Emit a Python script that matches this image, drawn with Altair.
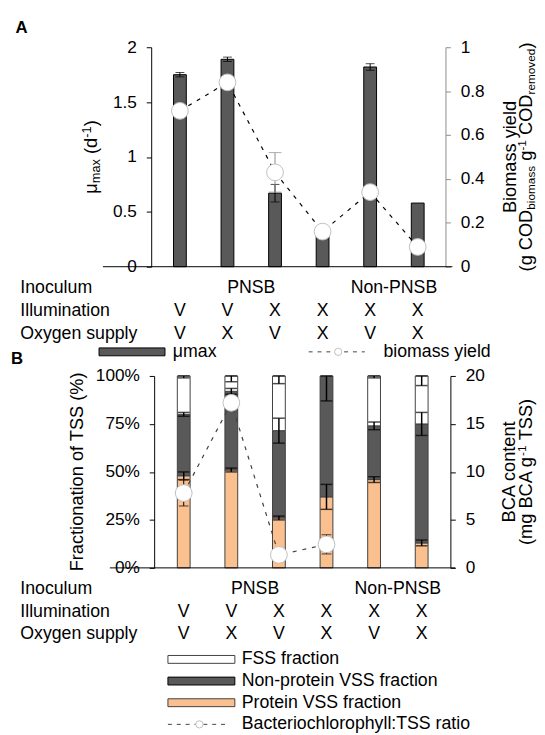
import altair as alt
import pandas as pd

FONT = "Liberation Sans"

# ---------------- data ----------------
conditions = [1, 2, 3, 4, 5, 6]
illumination = ["V", "V", "X", "X", "X", "X"]
oxygen_supply = ["V", "X", "V", "X", "V", "X"]
inoculum_names = ["PNSB", "Non-PNSB"]
inoculum_centres = [2.5, 5.5]
row_labels = ["Inoculum", "Illumination", "Oxygen supply"]

mu_max = [1.75, 1.89, 0.67, 0.30, 1.82, 0.58]
mu_max_err = [0.02, 0.02, 0.08, 0.0, 0.03, 0.0]
biomass_yield = [0.71, 0.84, 0.43, 0.16, 0.34, 0.09]
biomass_yield_err = [0.0, 0.0, 0.09, 0.0, 0.0, 0.0]

protein_vss = [48, 51, 26, 37, 46, 13]
nonprotein_vss = [32, 41, 45.5, 63, 28, 62]
fss = [20, 8, 28.5, 0, 26, 25]
protein_err = [2, 1, 1, 6.5, 1.5, 1.5]
nonprotein_err = [1, 1.5, 6.5, 13, 2, 6]
fss_err = [1, 3, 4, 0, 1, 5]

bca_conditions = [1, 2, 3, 4]
bca_content = [7.8, 17.2, 1.35, 2.45]
bca_err = [1.35, 0.6, 0.3, 1.0]

mu_ticks = [0, 0.5, 1, 1.5, 2]
yield_ticks = [0, 0.2, 0.4, 0.6, 0.8, 1]
tss_ticks = [0, 25, 50, 75, 100]
bca_ticks = [0, 5, 10, 15, 20]

seg_names = ["Protein VSS fraction", "Non-protein VSS fraction", "FSS fraction"]
seg_colors = ["#FAC090", "#595959", "#FFFFFF"]

# ---------------- layout ----------------
A_W, A_H = 299, 223
B_W, B_H = 304, 195
TXT = 18
TTL = 18.5
SUB = 12

ARIAL = {' ': 278, '(': 333, ')': 333, '-': 333, '1': 556, 'g': 556, 'C': 722,
         'O': 778, 'D': 722, 'b': 556, 'i': 222, 'o': 556, 'm': 833, 'a': 556,
         's': 500, 'r': 333, 'e': 556, 'v': 500, 'd': 556, 'μ': 576, 'x': 500,
         'B': 667, 'A': 667, 'c': 500, 'n': 556, 't': 278, 'T': 611, 'S': 667,
         'y': 500, 'l': 222, '%': 889, 'F': 611, 'f': 278}


def tw(s, size):
    return sum(ARIAL.get(c, 556) for c in s) * size / 1000.0


def one():
    return pd.DataFrame({"k": [0]})


def txt(text, x, y, size=TXT, align="left", baseline="middle", weight="normal", angle=0, color="black"):
    return alt.Chart(pd.DataFrame({"t": [text]})).mark_text(
        align=align, baseline=baseline, font=FONT, fontSize=size,
        fontWeight=weight, angle=angle, color=color
    ).encode(x=alt.value(x), y=alt.value(y), text="t:N")


def rotated(pieces, xb, yc):
    total = sum(tw(t, s) for t, s, _ in pieces)
    y = yc + total / 2
    marks = []
    for t, s, sh in pieces:
        lead = len(t) - len(t.lstrip(" "))
        y -= tw(" " * lead, s)
        core = t.strip(" ")
        marks.append(txt(core, xb + sh, y, size=s, align="left", baseline="alphabetic", angle=270))
        y -= tw(core, s)
    return marks


def hrule(x1, x2, y, color="black", width=1, dash=None):
    kw = dict(color=color, strokeWidth=width)
    if dash:
        kw["strokeDash"] = dash
    return alt.Chart(one()).mark_rule(**kw).encode(x=alt.value(x1), x2=alt.value(x2), y=alt.value(y))


def swatch(x1, x2, yc, fill, stroke="black"):
    return alt.Chart(one()).mark_rect(fill=fill, stroke=stroke, strokeWidth=1).encode(
        x=alt.value(x1), x2=alt.value(x2), y=alt.value(yc - 4), y2=alt.value(yc + 4))


def dot(x, y, size):
    return alt.Chart(one()).mark_circle(color="white", stroke="#bfbfbf", strokeWidth=1,
                                        opacity=1, size=size).encode(x=alt.value(x), y=alt.value(y))


def errbars(xenc, conds, centres, errs, yscale, yaxis, color, cap, hi_clip=None, width=1):
    rows = []
    for c, m, e in zip(conds, centres, errs):
        if e <= 0:
            continue
        hi = m + e
        if hi_clip is not None:
            hi = min(hi, hi_clip)
        rows.append(dict(cond=c, lo=m - e, hi=hi))
    df = pd.DataFrame(rows)
    caps = pd.DataFrame([dict(cond=r["cond"], v=r[k]) for r in rows for k in ("lo", "hi")])
    rule = alt.Chart(df).mark_rule(color=color, strokeWidth=width).encode(
        x=xenc, y=alt.Y("lo:Q", scale=yscale, axis=yaxis), y2="hi:Q")
    tick = alt.Chart(caps).mark_tick(orient="horizontal", size=cap, thickness=width, color=color).encode(
        x=xenc, y=alt.Y("v:Q", scale=yscale, axis=yaxis))
    return [rule, tick]


def table(df, xenc, ys, inoc_y):
    out = []
    for lab, yy in zip(row_labels, ys):
        out.append(txt(lab, -133, yy))
    out.append(alt.Chart(df).mark_text(font=FONT, fontSize=TXT, align="center", baseline="middle",
                                       color="black").encode(x=xenc, y=alt.value(ys[1]), text="illum:N"))
    out.append(alt.Chart(df).mark_text(font=FONT, fontSize=TXT, align="center", baseline="middle",
                                       color="black").encode(x=xenc, y=alt.value(ys[2]), text="oxy:N"))
    inoc = pd.DataFrame({"cond": inoculum_centres, "name": inoculum_names})
    out.append(alt.Chart(inoc).mark_text(font=FONT, fontSize=TXT, align="center", baseline="middle",
                                         color="black").encode(x=xenc, y=alt.value(inoc_y), text="name:N"))
    return out


# ---------------- panel A ----------------
xA = alt.X("cond:Q", scale=alt.Scale(domain=[0.5, 6.48], nice=False, zero=False), axis=None)
ysA_L = alt.Scale(domain=[0, 2], nice=False)
ysA_R = alt.Scale(domain=[0, 1], nice=False)
axA_L = alt.Axis(orient="left", values=mu_ticks, format="~g", title=None)
axA_R = alt.Axis(orient="right", values=yield_ticks, format="~g", title=None,
                 domainColor="#8c8c8c", tickColor="#8c8c8c")

dfA = pd.DataFrame({"cond": conditions, "mu": mu_max, "yield": biomass_yield,
                    "illum": illumination, "oxy": oxygen_supply})

barsA = alt.Chart(dfA).mark_bar(size=13, color="#595959", stroke="black", strokeWidth=1,
                                orient="vertical").encode(
    x=xA, y=alt.Y("mu:Q", scale=ysA_L, axis=axA_L))
leftA = alt.layer(barsA, *errbars(xA, conditions, mu_max, mu_max_err, ysA_L, axA_L, "black", 9))

lineA = alt.Chart(dfA).mark_line(color="black", strokeWidth=1.2, strokeDash=[4, 6]).encode(
    x=xA, y=alt.Y("yield:Q", scale=ysA_R, axis=axA_R))
ptsA = alt.Chart(dfA).mark_circle(size=290, color="white", stroke="#bfbfbf", strokeWidth=1,
                                  opacity=1).encode(x=xA, y=alt.Y("yield:Q", scale=ysA_R, axis=axA_R))
rightA = alt.layer(lineA, *errbars(xA, conditions, biomass_yield, biomass_yield_err, ysA_R, axA_R,
                                   "#8c8c8c", 13), ptsA)

annotA = [hrule(-49, 306, A_H)]
annotA += table(dfA, xA, [245, 268.5, 291], 245)
annotA += [
    txt("A", -138, -14.3, size=17, weight="bold", baseline="alphabetic"),
    swatch(-53, 14, 309.5, "#595959"),
    txt("μmax", 22, 309.5),
    hrule(160, 217, 309.5, "#404040", 1, [4, 5]),
    dot(190, 309.5, 55),
    txt("biomass yield", 236, 309.5),
    txt("Biomass yield", 371, A_H / 2, size=TTL, align="center", baseline="alphabetic", angle=270),
]
annotA += rotated([("μ", TTL, 0), ("max", 13, 3), (" (d", TTL, 0), ("-1", 13, -6), (")", TTL, 0)],
                  -55, A_H / 2)
annotA += rotated([("(g COD", TTL, 0), ("biomass", SUB, 3), (" g", TTL, 0), ("-1", SUB, -6),
                   (" COD", TTL, 0), ("removed", SUB, 3), (")", TTL, 0)], 386.5, A_H / 2)

panelA = alt.layer(leftA, rightA, *annotA).resolve_scale(y="independent").properties(
    width=A_W, height=A_H)

# ---------------- panel B ----------------
xB = alt.X("cond:Q", scale=alt.Scale(domain=[0.42, 6.5], nice=False, zero=False), axis=None)
ysB_L = alt.Scale(domain=[0, 100], nice=False)
ysB_R = alt.Scale(domain=[0, 20], nice=False)
axB_L = alt.Axis(orient="left", values=tss_ticks, labelExpr="datum.value + '%'",
                 title=None, offset=-3)
axB_R = alt.Axis(orient="right", values=bca_ticks, format="~g", title=None)

dfB = pd.DataFrame({"cond": conditions, "illum": illumination, "oxy": oxygen_supply})

seg_rows = []
tops, top_errs, top_conds = [], [], []
for c, p, n, f, pe, ne, fe in zip(conditions, protein_vss, nonprotein_vss, fss,
                                  protein_err, nonprotein_err, fss_err):
    bounds = [0, p, p + n, p + n + f]
    for k, name in enumerate(seg_names):
        if bounds[k + 1] > bounds[k]:
            seg_rows.append(dict(cond=c, seg=name, y0=bounds[k], y1=bounds[k + 1]))
    for k, e in zip(range(1, 4), (pe, ne, fe)):
        tops.append(bounds[k])
        top_errs.append(e)
        top_conds.append(c)
segB = pd.DataFrame(seg_rows)

barsB = alt.Chart(segB).mark_bar(size=13, stroke="#404040", strokeWidth=1, orient="vertical").encode(
    x=xB,
    y=alt.Y("y0:Q", scale=ysB_L, axis=axB_L),
    y2="y1:Q",
    color=alt.Color("seg:N", scale=alt.Scale(domain=seg_names, range=seg_colors), legend=None),
)
leftB = alt.layer(barsB, *errbars(xB, top_conds, tops, top_errs, ysB_L, axB_L, "black", 12,
                                  hi_clip=100, width=1.5))

dfBCA = pd.DataFrame({"cond": bca_conditions, "bca": bca_content})
lineB = alt.Chart(dfBCA).mark_line(color="#404040", strokeWidth=1.2, strokeDash=[4, 6]).encode(
    x=xB, y=alt.Y("bca:Q", scale=ysB_R, axis=axB_R))
ptsB = alt.Chart(dfBCA).mark_circle(size=290, color="white", stroke="#bfbfbf", strokeWidth=1,
                                    opacity=1).encode(x=xB, y=alt.Y("bca:Q", scale=ysB_R, axis=axB_R))
rightB = alt.layer(lineB, *errbars(xB, bca_conditions, bca_content, bca_err, ysB_R, axB_R,
                                   "black", 10), ptsB)

annotB = [hrule(-42, 309, B_H)]
annotB += table(dfB, xB, [217, 239.5, 262], 217)
annotB += [
    txt("B", -142.5, -12.3, size=17, weight="bold", baseline="alphabetic"),
    swatch(17, 85, 288, "white", stroke="#404040"),
    txt("FSS fraction", 92, 288),
    swatch(17, 85, 310, "#595959"),
    txt("Non-protein VSS fraction", 92, 310),
    swatch(17, 85, 332, "#FAC090", stroke="#404040"),
    txt("Protein VSS fraction", 92, 332),
    hrule(17, 76, 354, "#404040", 1, [4, 5]),
    dot(49, 354, 55),
    txt("Bacteriochlorophyll:TSS ratio", 92, 354),
    txt("Fractionation of TSS (%)", -69, B_H / 2, size=TTL, align="center",
        baseline="alphabetic", angle=270),
    txt("BCA content", 370, B_H / 2, size=TTL, align="center", baseline="alphabetic", angle=270),
]
annotB += rotated([("(mg BCA g", TTL, 0), ("-1", SUB, -6), (" TSS)", TTL, 0)], 386.5, B_H / 2)

panelB = alt.layer(leftB, rightB, *annotB).resolve_scale(y="independent").properties(
    width=B_W, height=B_H)

# ---------------- assemble ----------------
chart = alt.vconcat(panelA, panelB, spacing=111, bounds="flush").properties(
    padding={"left": 2.5, "top": 5, "right": 0, "bottom": 0}
).configure_view(stroke=None).configure_axis(
    labelFont=FONT, labelFontSize=17.5, labelColor="black", tickColor="black",
    domainColor="black", tickSize=5, labelPadding=10, grid=False,
    domainWidth=1, tickWidth=1,
)

chart.save("out.html", embed_options={"renderer": "svg", "actions": False})
